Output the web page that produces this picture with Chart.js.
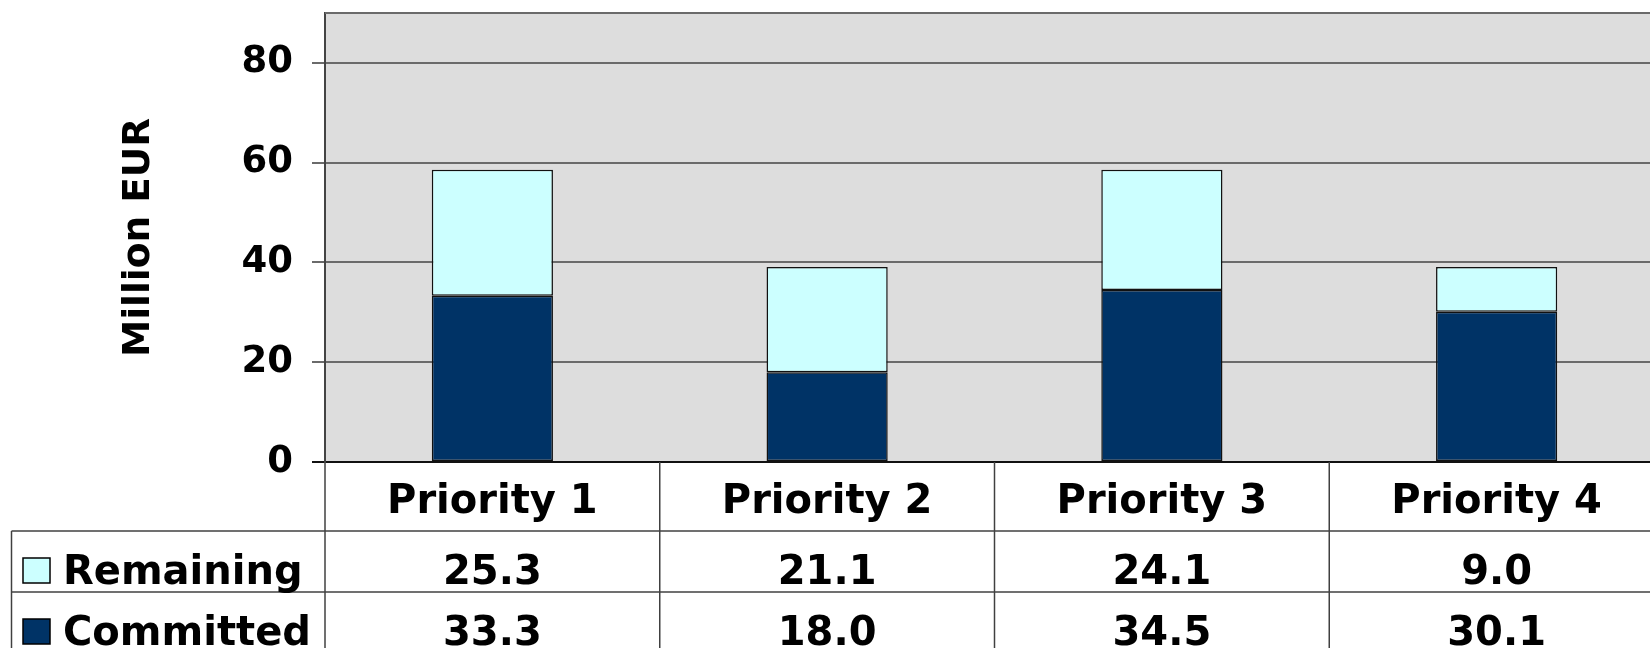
<!DOCTYPE html>
<html>
<head>
<meta charset="utf-8">
<script src="https://cdn.jsdelivr.net/npm/chart.js@4"></script>
<style>
html, body { margin: 0; padding: 0; background: #fff; overflow: hidden; }
#wrap { width: 1664px; height: 648px; }
</style>
</head>
<body>
<div id="wrap"><canvas id="priorityChart" width="1664" height="648"></canvas></div>
<script>

var categories = ['Priority 1', 'Priority 2', 'Priority 3', 'Priority 4'];
var committed = [33.3, 18.0, 34.5, 30.1];
var remaining = [25.3, 21.1, 24.1, 9.0];
var yTicks = [0, 20, 40, 60, 80];

// draws the grey plot background and the data table under the bars
var dataTable = {
    id: 'dataTable',
    beforeDraw: function(chart) {
        var ctx = chart.ctx, a = chart.chartArea;
        ctx.save();
        ctx.fillStyle = '#dddddd';
        ctx.fillRect(a.left, a.top, a.right - a.left, a.bottom - a.top);
        ctx.restore();
    },
    afterDraw: function(chart) {
        var ctx = chart.ctx, a = chart.chartArea, xs = chart.scales.x;
        var H = chart.height;
        var colW = (a.right - a.left) / categories.length;
        var row1 = a.bottom + 69, row2 = a.bottom + 130;
        var tableLeft = 11.5;

        function line(x1, y1, x2, y2) {
            ctx.beginPath();
            ctx.moveTo(x1, y1);
            ctx.lineTo(x2, y2);
            ctx.stroke();
        }

        ctx.save();
        ctx.strokeStyle = '#6a6a6a';
        ctx.lineWidth = 2;
        line(a.left, a.top, a.right, a.top);

        ctx.strokeStyle = '#404040';
        ctx.lineWidth = 1.5;
        line(tableLeft, row1, a.right, row1);
        line(tableLeft, row2, a.right, row2);
        line(tableLeft, row1, tableLeft, H);
        for (var i = 0; i <= categories.length; i++) {
            line(a.left + i * colW, a.bottom, a.left + i * colW, H);
        }

        ctx.fillStyle = '#000';
        ctx.textAlign = 'center';
        ctx.textBaseline = 'alphabetic';
        ctx.font = 'bold 40px "DejaVu Sans"';
        var rows = [chart.data.datasets[1], chart.data.datasets[0]];
        var baselines = [a.bottom + 122, a.bottom + 183];
        categories.forEach(function(c, i) {
            var cx = xs.getPixelForValue(i);
            ctx.fillText(c, cx, a.bottom + 51);
            rows.forEach(function(ds, r) {
                ctx.fillText(ds.data[i].toFixed(1), cx, baselines[r]);
            });
        });

        // legend keys in the first column
        ctx.textAlign = 'left';
        rows.forEach(function(ds, r) {
            var b = baselines[r];
            ctx.fillStyle = ds.backgroundColor;
            ctx.fillRect(23, b - 26, 27, 25);
            ctx.strokeStyle = '#000';
            ctx.lineWidth = 1.5;
            ctx.strokeRect(23, b - 26, 27, 25);
            ctx.fillStyle = '#000';
            ctx.fillText(ds.label, 63, b);
        });
        ctx.restore();
    }
};

var ctx = document.getElementById('priorityChart').getContext('2d');
var chart = new Chart(ctx, {
    type: 'bar',
    data: {
        labels: categories,
        datasets: [{
            label: 'Committed',
            data: committed,
            backgroundColor: '#003366',
            borderColor: '#111',
            borderWidth: 1.5,
            borderSkipped: false
        }, {
            label: 'Remaining',
            data: remaining,
            backgroundColor: '#ccffff',
            borderColor: '#111',
            borderWidth: 1.5,
            borderSkipped: false
        }]
    },
    options: {
        responsive: false,
        animation: false,
        categoryPercentage: 1,
        barPercentage: 0.362,
        layout: {
            padding: { top: 13, bottom: 186, left: 0, right: 0 }
        },
        plugins: {
            legend: { display: false },
            tooltip: { enabled: false }
        },
        scales: {
            x: {
                stacked: true,
                display: false
            },
            y: {
                stacked: true,
                min: 0,
                max: 90,
                afterBuildTicks: function(scale) {
                    scale.ticks = yTicks.map(function(v) { return { value: v }; });
                },
                afterFit: function(scale) {
                    scale.width = 325;
                    scale.paddingTop = 0;
                    scale.paddingBottom = 0;
                },
                grid: {
                    color: function(c) { return c.tick && c.tick.value === 0 ? '#111' : '#6a6a6a'; },
                    lineWidth: 2,
                    tickLength: 13
                },
                border: {
                    display: true,
                    color: '#444',
                    width: 2
                },
                ticks: {
                    color: '#000',
                    padding: 19,
                    font: { family: 'DejaVu Sans', weight: 'bold', size: 37 }
                },
                title: {
                    display: true,
                    text: 'Million EUR',
                    color: '#000',
                    font: { family: 'DejaVu Sans', weight: 'bold', size: 37.5 },
                    padding: { top: 117, bottom: 0 }
                }
            }
        }
    },
    plugins: [dataTable]
});

</script>
</body>
</html>
